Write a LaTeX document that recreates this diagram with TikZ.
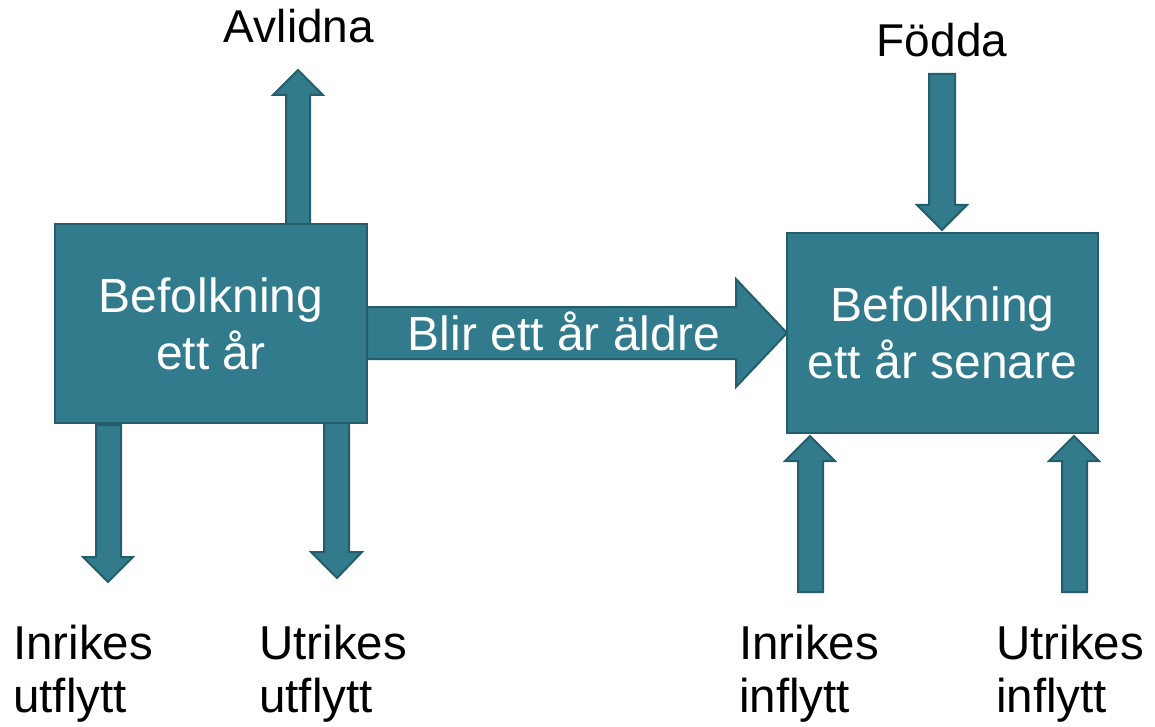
\documentclass[tikz,border=0pt]{standalone}
\usepackage{fontspec}
\setmainfont{Liberation Sans}
\definecolor{tealfill}{RGB}{49,123,140}
\definecolor{tealline}{RGB}{36,94,108}
\begin{document}
\begin{tikzpicture}[x=1pt,y=-1pt,
  boxstyle/.style={draw=tealline,fill=tealfill,line width=2pt,inner sep=0pt,
    text=white,align=center,font=\fontsize{48}{57}\selectfont},
  blockarrow/.style={draw=tealline,fill=tealfill,line width=2pt,line join=miter},
  labeltext/.style={inner sep=0pt,align=left,font=\fontsize{47.5}{53}\selectfont,text=black},
  toptext/.style={inner sep=0pt,font=\fontsize{46}{52}\selectfont,text=black}]
\useasboundingbox (0,0) rectangle (1155,727);

% boxes
\node[boxstyle,minimum width=312pt,minimum height=199pt] (L) at (211,323.5) {Befolkning\\ett år};
\node[boxstyle,minimum width=311pt,minimum height=200pt] (R) at (942.5,333) {Befolkning\\ett år senare};

% Avlidna arrow (up from left box)
\coordinate (avl0) at (286,224);
\draw[blockarrow] (avl0) -- (286,95) -- (273,95) -- (298,70) -- (323,95) -- (310,95) -- (310,224) -- cycle;

% left down arrows
\coordinate (iu0) at (96,425);
\draw[blockarrow] (iu0) -- (96,557) -- (83,557) -- (108,582) -- (133,557) -- (121,557) -- (121,425) -- cycle;
\coordinate (uu0) at (324,423);
\draw[blockarrow] (uu0) -- (324,552) -- (311,552) -- (337,578) -- (362,552) -- (349,552) -- (349,423) -- cycle;

% middle arrow
\coordinate (mid0) at (367,307);
\draw[blockarrow] (mid0) -- (736,307) -- (736,279) -- (787,333) -- (736,387) -- (736,359) -- (367,359) -- cycle;
\node[inner sep=0pt,text=white,font=\fontsize{48}{52}\selectfont,anchor=base] (mid) at (564,350) {Blir ett år äldre};

% Födda arrow (down into right box)
\coordinate (fod0) at (929,74);
\draw[blockarrow] (fod0) -- (955,74) -- (955,205) -- (967,205) -- (942,230) -- (917,205) -- (929,205) -- cycle;

% right up arrows
\coordinate (ii0) at (798,592);
\draw[blockarrow] (ii0) -- (798,461) -- (785,461) -- (810,436) -- (835,461) -- (823,461) -- (823,592) -- cycle;
\coordinate (ui0) at (1062,592);
\draw[blockarrow] (ui0) -- (1062,461) -- (1049,461) -- (1074,436) -- (1099,461) -- (1087,461) -- (1087,592) -- cycle;

% labels
\node[toptext,anchor=base] (avl) at (299,43) {Avlidna};
\node[toptext,anchor=base] (fod) at (942,57) {Födda};
\node[labeltext,anchor=north west] (iu) at (13,625) {Inrikes\\utflytt};
\node[labeltext,anchor=north west] (uu) at (259,625) {Utrikes\\utflytt};
\node[labeltext,anchor=north west] (ii) at (739,625) {Inrikes\\inflytt};
\node[labeltext,anchor=north west] (ui) at (996,625) {Utrikes\\inflytt};
\end{tikzpicture}
\end{document}
